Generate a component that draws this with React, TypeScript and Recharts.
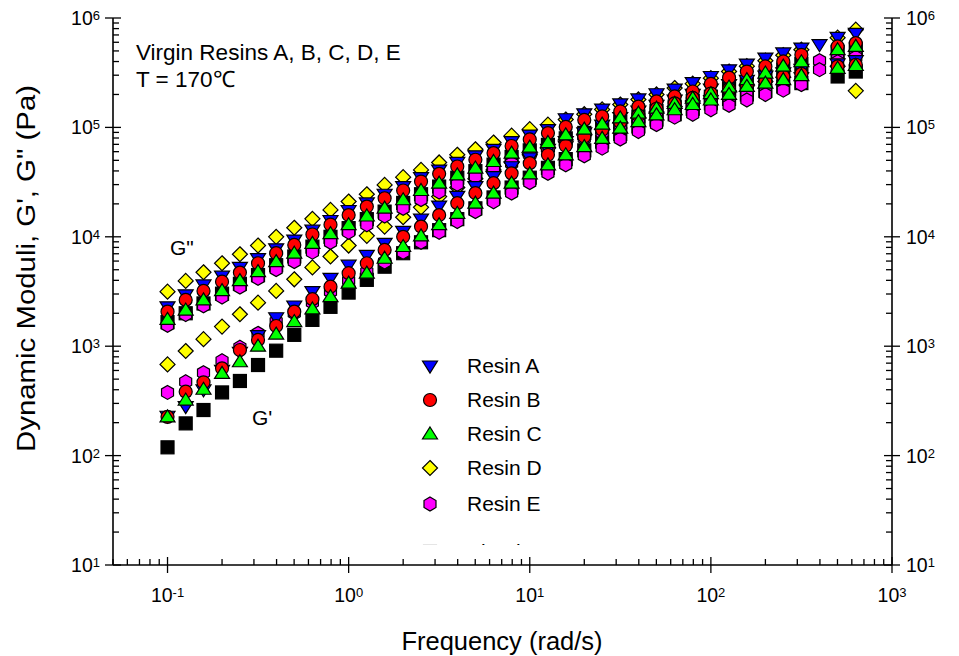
import { ScatterChart, Scatter, XAxis, YAxis } from 'recharts'

// angular frequency, rad/s (10 points per decade)
const freq = [0.1, 0.126, 0.158, 0.2, 0.251, 0.316, 0.398, 0.501, 0.631, 0.794,
  1, 1.26, 1.58, 2, 2.51, 3.16, 3.98, 5.01, 6.31, 7.94,
  10, 12.6, 15.8, 20, 25.1, 31.6, 39.8, 50.1, 63.1, 79.4,
  100, 126, 158, 200, 251, 316, 398, 501, 631]

// G'' (loss modulus) and G' (storage modulus), Pa
const resinAGpp = [2290, 2950, 3630, 4370, 5250, 6310, 7760, 9330, 11500, 14100,
  17400, 20400, 24500, 28800, 34700, 40700, 47900, 55000, 63100, 74100,
  85100, 95500, 120000, 133000, 147000, 164000, 182000, 203000, 224000, 257000,
  292000, 336000, 379000, 430000, 479000, 531000, 570000, 665000, 724000]
const resinAGp = [229, 280, 398, 603, 880, 1250, 1820, 2330, 3160, 4170,
  5500, 6760, 8710, 11200, 14500, 19100, 23400, 28800, 35500, 43700,
  52500, 63100, 74100, 89100, 105000, 123000, 141000, 159000, 178000, 200000,
  224000, 246000, 269000, 295000, 316000, 339000, null, 380000, 407000]

const resinBGpp = [2070, 2650, 3200, 3890, 4710, 5730, 7080, 8430, 10500, 12900,
  15800, 18900, 22500, 26500, 32000, 37600, 43900, 50600, 58200, 67600,
  77600, 88700, 101000, 117000, 126000, 140000, 155000, 173000, 192000, 213000,
  250000, 285000, 324000, 361000, 401000, 461000, null, 550000, 590000]
const resinBGp = [226, 384, 468, 628, 923, 1140, 1530, 2070, 2690, 3500,
  4650, 5730, 7590, 10000, 12400, 15800, 20300, 25100, 30900, 38000,
  47100, 56200, 67900, 82600, 95100, 112000, 129000, 148000, 166000, 186000,
  204000, 224000, 246000, 263000, 292000, 308000, null, 361000, 374000]

const resinCGpp = [1760, 2140, 2650, 3220, 3970, 4810, 5930, 7080, 8710, 10700,
  12900, 15500, 18300, 21800, 26500, 30900, 36800, 42500, 48800, 58200,
  66100, 72800, 85500, 96400, 107000, 122000, 135000, 150000, 166000, 185000,
  204000, 234000, 273000, 314000, 363000, 398000, null, 513000, 550000]
const resinCGp = [226, 322, 404, 565, 721, 1000, 1290, 1680, 2190, 2840,
  3770, 4650, 6370, 8150, 10200, 12900, 16400, 20300, 25100, 30900,
  37600, 45500, 56200, 66800, 79400, 98600, 113000, 130000, 145000, 162000,
  178000, 200000, 237000, 254000, 273000, 297000, null, 347000, 368000]

const resinDGpp = [3150, 3950, 4740, 5730, 6930, 8320, 10000, 12100, 14600, 17600,
  21000, 24500, 29800, 35100, 40900, 47800, 56200, 63100, 72800, 84100,
  96400, 106000, 118000, 132000, 146000, 162000, 180000, 200000, 229000, 251000,
  282000, 324000, 363000, 407000, 457000, 513000, null, 661000, 782000]
const resinDGp = [682, 904, 1160, 1510, 1960, 2500, 3200, 4090, 5250, 6610,
  8320, 10200, 12400, 15100, 18600, 23300, 28200, 33900, 40700, 47900,
  56200, 64600, 74100, 85100, 95500, 110000, 123000, 138000, 155000, 174000,
  195000, 214000, 240000, 263000, 288000, 316000, null, 363000, 216000]

const resinEGpp = [1550, 1950, 2340, 2820, 3470, 4170, 5010, 5930, 7240, 8910,
  11000, 12900, 15500, 18200, 21900, 25700, 30200, 35500, 40700, 46800,
  56200, 63100, 70800, 79400, 89100, 100000, 112000, 126000, 138000, 151000,
  167000, 185000, 206000, 229000, 263000, 295000, 407000, 437000, 479000]
const resinEGp = [378, 473, 573, 736, 977, 1310, 1680, 2000, 2510, 3160,
  3980, 4790, 5890, 7240, 8910, 11000, 13800, 17000, 20900, 25100,
  31300, 38000, 45500, 55000, 64600, 78200, 91800, 106000, 124000, 132000,
  145000, 159000, 178000, 200000, 219000, 246000, 337000, 398000, 437000]

const blendGpp = [1660, 2000, 2460, 3020, 3720, 4470, 5500, 6610, 8130, 10000,
  12000, 14500, 17000, 20400, 24500, 28800, 34700, 39800, 45700, 53700,
  61700, 69200, 79400, 89100, 100000, 112000, 126000, 141000, 155000, 174000,
  191000, 224000, 257000, 295000, 339000, 380000, null, 490000, 525000]
const blendGp = [119, 197, 261, 378, 481, 673, 910, 1270, 1740, 2290,
  3090, 4040, 5330, 7080, 8910, 11500, 14500, 18200, 22900, 28200,
  34700, 42700, 51300, 61700, 74100, 87100, 102000, 118000, 132000, 148000,
  166000, 182000, 200000, 216000, 237000, 254000, null, 292000, 324000]

const xTicks = [0.05, 0.06, 0.07, 0.08, 0.09, 0.1, 0.2, 0.3, 0.4, 0.5, 0.6, 0.7, 0.8, 0.9,
  1, 2, 3, 4, 5, 6, 7, 8, 9, 10, 20, 30, 40, 50, 60, 70, 80, 90,
  100, 200, 300, 400, 500, 600, 700, 800, 900, 1000]
const xMajor = [0.1, 1, 10, 100, 1000]
const yTicks = [10, 20, 30, 40, 50, 60, 70, 80, 90, 100, 200, 300, 400, 500, 600, 700, 800, 900,
  1000, 2000, 3000, 4000, 5000, 6000, 7000, 8000, 9000, 10000, 20000, 30000, 40000, 50000,
  60000, 70000, 80000, 90000, 100000, 200000, 300000, 400000, 500000, 600000, 700000,
  800000, 900000, 1000000]
const yMajor = [10, 100, 1000, 10000, 100000, 1000000]

type Kind = 'triDown' | 'circle' | 'triUp' | 'diamond' | 'hexagon' | 'square'

// drawing order (back to front); legend order is separate
const series = [
  { name: 'Blend', kind: 'square' as Kind, fill: '#000000', gpp: blendGpp, gp: blendGp },
  { name: 'Resin D', kind: 'diamond' as Kind, fill: '#ffff00', gpp: resinDGpp, gp: resinDGp },
  { name: 'Resin E', kind: 'hexagon' as Kind, fill: '#ff00ff', gpp: resinEGpp, gp: resinEGp },
  { name: 'Resin A', kind: 'triDown' as Kind, fill: '#0000ff', gpp: resinAGpp, gp: resinAGp },
  { name: 'Resin B', kind: 'circle' as Kind, fill: '#ff0000', gpp: resinBGpp, gp: resinBGp },
  { name: 'Resin C', kind: 'triUp' as Kind, fill: '#00ff00', gpp: resinCGpp, gp: resinCGp },
]
const legendOrder = ['Resin A', 'Resin B', 'Resin C', 'Resin D', 'Resin E', 'Blend']

const toPoints = (vals: (number | null)[]) =>
  freq.map((f, i) => ({ x: f, y: vals[i] })).filter((p) => p.y != null)

function Marker({ kind, cx, cy, fill }: { kind: Kind; cx: number; cy: number; fill: string }) {
  const common = { fill, stroke: '#000', strokeWidth: 1.2 }
  switch (kind) {
    case 'circle':
      return <circle cx={cx} cy={cy} r={6.5} {...common} />
    case 'square':
      return <rect x={cx - 6.5} y={cy - 6.5} width={13} height={13} {...common} />
    case 'diamond':
      return <polygon points={`${cx},${cy - 7.5} ${cx + 7.5},${cy} ${cx},${cy + 7.5} ${cx - 7.5},${cy}`} {...common} />
    case 'triUp':
      return <polygon points={`${cx},${cy - 7} ${cx + 7.5},${cy + 5} ${cx - 7.5},${cy + 5}`} {...common} />
    case 'triDown':
      return <polygon points={`${cx - 7.5},${cy - 5} ${cx + 7.5},${cy - 5} ${cx},${cy + 7}`} {...common} />
    default:
      return (
        <polygon
          points={`${cx},${cy - 7} ${cx + 6},${cy - 3.5} ${cx + 6},${cy + 3.5} ${cx},${cy + 7} ${cx - 6},${cy + 3.5} ${cx - 6},${cy - 3.5}`}
          {...common}
        />
      )
  }
}

const expOf = (v: number) => String(Math.round(Math.log10(v)))
const TICK = { stroke: '#000', strokeWidth: 1.3 }

function PowLabel({ x, y, v, anchor }: { x: number; y: number; v: number; anchor: 'start' | 'middle' | 'end' }) {
  return (
    <text x={x} y={y} textAnchor={anchor} fontSize={19.5} fill="#000">
      10<tspan dy={-5} fontSize={13}>{expOf(v)}</tspan>
    </text>
  )
}

const BottomTick = (p: any) => {
  const v = p.payload.value
  const major = xMajor.includes(v)
  return (
    <g>
      {major
        ? <line x1={p.x} x2={p.x} y1={p.y - 8} y2={p.y + 8} {...TICK} />
        : <line x1={p.x} x2={p.x} y1={p.y} y2={p.y - 6} {...TICK} />}
      {major && <PowLabel x={p.x} y={p.y + 37} v={v} anchor="middle" />}
    </g>
  )
}

const TopTick = (p: any) => {
  const major = xMajor.includes(p.payload.value)
  return major
    ? <line x1={p.x} x2={p.x} y1={p.y - 8} y2={p.y + 8} {...TICK} />
    : <line x1={p.x} x2={p.x} y1={p.y} y2={p.y + 6} {...TICK} />
}

const LeftTick = (p: any) => {
  const v = p.payload.value
  const major = yMajor.includes(v)
  return (
    <g>
      {major
        ? <line x1={p.x - 8} x2={p.x + 8} y1={p.y} y2={p.y} {...TICK} />
        : <line x1={p.x} x2={p.x + 6} y1={p.y} y2={p.y} {...TICK} />}
      {major && <PowLabel x={p.x - 13} y={p.y + 7} v={v} anchor="end" />}
    </g>
  )
}

const RightTick = (p: any) => {
  const v = p.payload.value
  const major = yMajor.includes(v)
  return (
    <g>
      {major
        ? <line x1={p.x - 8} x2={p.x + 8} y1={p.y} y2={p.y} {...TICK} />
        : <line x1={p.x} x2={p.x - 6} y1={p.y} y2={p.y} {...TICK} />}
      {major && <PowLabel x={p.x + 14} y={p.y + 7} v={v} anchor="start" />}
    </g>
  )
}

const AXIS_LINE = { stroke: '#000', strokeWidth: 1.6 }
const W = 943
const H = 648

export default function App() {
  const legendRows = legendOrder.map((n) => series.find((s) => s.name === n)!)
  const rowY = [358, 392, 426, 460, 496, 544]
  return (
    <div style={{ position: 'relative', width: W, height: H, fontFamily: '"Liberation Sans", Arial, sans-serif' }}>
      <ScatterChart width={W} height={H} margin={{ top: 10, right: 4, bottom: 41, left: 40 }}>
        <XAxis xAxisId="bottom" dataKey="x" type="number" scale="log" domain={[0.05, 1000]}
          allowDataOverflow ticks={xTicks} interval={0} height={50} tickSize={0} tickMargin={0}
          tickLine={false} axisLine={AXIS_LINE} tick={BottomTick} />
        <XAxis xAxisId="top" orientation="top" dataKey="x" type="number" scale="log" domain={[0.05, 1000]}
          allowDataOverflow ticks={xTicks} interval={0} height={0} tickSize={0} tickMargin={0}
          tickLine={false} axisLine={AXIS_LINE} tick={TopTick} />
        <YAxis yAxisId="left" dataKey="y" type="number" scale="log" domain={[10, 1000000]}
          allowDataOverflow ticks={yTicks} interval={0} width={65} tickSize={0} tickMargin={0}
          tickLine={false} axisLine={AXIS_LINE} tick={LeftTick} />
        <YAxis yAxisId="right" orientation="right" dataKey="y" type="number" scale="log" domain={[10, 1000000]}
          allowDataOverflow ticks={yTicks} interval={0} width={55} tickSize={0} tickMargin={0}
          tickLine={false} axisLine={AXIS_LINE} tick={RightTick} />
        {series.flatMap((s) => [
          <Scatter key={s.name + '-gpp'} name={s.name + " G''"} data={toPoints(s.gpp)} xAxisId="bottom" yAxisId="left"
            isAnimationActive={false}
            shape={(p: any) => <Marker kind={s.kind} cx={p.cx} cy={p.cy} fill={s.fill} />} />,
          <Scatter key={s.name + '-gp'} name={s.name + " G'"} data={toPoints(s.gp)} xAxisId="bottom" yAxisId="left"
            isAnimationActive={false}
            shape={(p: any) => <Marker kind={s.kind} cx={p.cx} cy={p.cy} fill={s.fill} />} />,
        ])}
      </ScatterChart>
      <svg width={W} height={H} style={{ position: 'absolute', left: 0, top: 0, pointerEvents: 'none' }}>
        <defs>
          <clipPath id="legendClip">
            <rect x={0} y={0} width={W} height={537} />
          </clipPath>
        </defs>
        <text x={128} y={52} fontSize={22.5} fill="#000">Virgin Resins A, B, C, D, E</text>
        <text x={128} y={79} fontSize={22.5} fill="#000">T = 170℃</text>
        <text x={162} y={247} fontSize={21} fill="#000">G"</text>
        <text x={244} y={417} fontSize={21} fill="#000">G'</text>
        <text x={494} y={642} fontSize={25.5} textAnchor="middle" fill="#000">Frequency (rad/s)</text>
        <text x={27} y={0} fontSize={25} textAnchor="middle" fill="#000"
          transform={`translate(27 260.5) rotate(-90) translate(-27 0)`}
          textLength={367} lengthAdjust="spacingAndGlyphs">Dynamic Moduli, G', G" (Pa)</text>
        <g clipPath="url(#legendClip)">
          {legendRows.map((s, i) => (
            <g key={s.name}>
              <Marker kind={s.kind} cx={422} cy={rowY[i]} fill={s.fill} />
              <text x={459} y={rowY[i] + 6.5} fontSize={21} fill="#000">{s.name}</text>
            </g>
          ))}
        </g>
      </svg>
    </div>
  )
}
